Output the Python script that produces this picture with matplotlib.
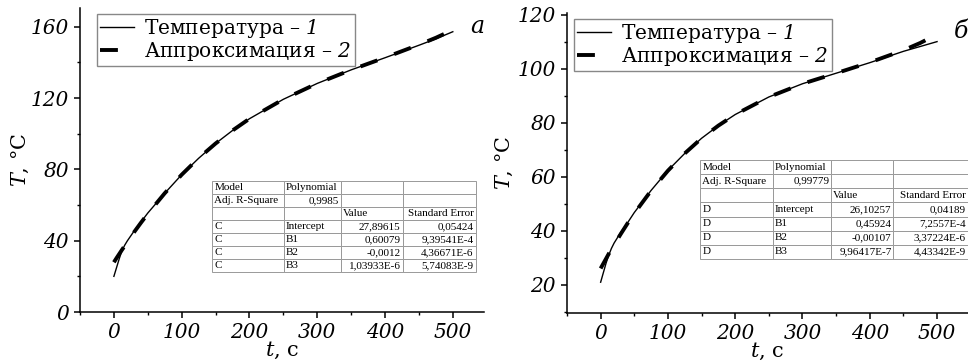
import matplotlib.pyplot as plt
from matplotlib.ticker import MultipleLocator

plt.rcParams['font.family'] = 'DejaVu Serif'
plt.rcParams['mathtext.fontset'] = 'custom'
plt.rcParams['mathtext.rm'] = 'DejaVu Serif:italic'
plt.rcParams['mathtext.it'] = 'DejaVu Serif:italic'

# panel a
t_a = [0, 4, 8, 12, 16, 20, 30, 40, 50, 75, 100, 125, 150, 175, 200, 250, 300, 350, 400, 450, 475, 500]
temp_a = [20, 25, 30, 34.5, 37.5, 40, 45.5, 50.5, 55.5, 66.6, 77, 86.2, 94.5, 101.8, 108.4, 119.3, 128.2,
          135.8, 142.6, 149.6, 153.2, 157.2]
fit_a = [27.9, 30.3, 32.6, 34.9, 37.1, 39.4, 44.9, 50.1, 55.1, 66.6, 77, 86.3, 94.5, 101.8, 108.4, 119.3,
         128.2, 135.8, 142.7, 149.9, 153.8, 158.2]

# panel б
t_b = [0, 4, 8, 12, 16, 20, 30, 40, 50, 75, 100, 125, 150, 175, 200, 250, 300, 350, 400, 450, 475, 500]
temp_b = [21, 24.5, 28, 31, 33.5, 35.5, 39.5, 43, 46.8, 55, 62.4, 68.7, 74.3, 79, 83.1, 89.6, 94.5, 98.4,
          102.3, 106.5, 108.3, 110.1]
fit_b = [26.1, 27.9, 29.7, 31.5, 33.2, 34.9, 38.9, 42.8, 46.5, 54.9, 62.3, 68.7, 74.3, 79, 83.1, 89.6, 94.5,
         98.4, 102.4, 106.9, 109.6, 112.8]

table_a = [['Model', 'Polynomial', '', ''],
           ['Adj. R-Square', '0,9985', '', ''],
           ['', '', 'Value', 'Standard Error'],
           ['C', 'Intercept', '27,89615', '0,05424'],
           ['C', 'B1', '0,60079', '9,39541E-4'],
           ['C', 'B2', '-0,0012', '4,36671E-6'],
           ['C', 'B3', '1,03933E-6', '5,74083E-9']]
table_b = [['Model', 'Polynomial', '', ''],
           ['Adj. R-Square', '0,99779', '', ''],
           ['', '', 'Value', 'Standard Error'],
           ['D', 'Intercept', '26,10257', '0,04189'],
           ['D', 'B1', '0,45924', '7,2557E-4'],
           ['D', 'B2', '-0,00107', '3,37224E-6'],
           ['D', 'B3', '9,96417E-7', '4,43342E-9']]

label_temp = 'Температура – $1$'
label_fit = 'Аппроксимация – $2$'


def draw_panel(ax, t, temp, fit, ylim, ymajor, yminor, rows, tbox, letter, leg_x, ylpad):
    ax.plot(t, temp, color='black', lw=1.0, label=label_temp)
    ax.plot(t, fit, color='black', lw=2.8, dashes=(4.6, 4.6), label=label_fit)
    ax.set_xlim(-50, 546)
    ax.set_ylim(*ylim)
    ax.xaxis.set_major_locator(MultipleLocator(100))
    ax.xaxis.set_minor_locator(MultipleLocator(50))
    ax.yaxis.set_major_locator(MultipleLocator(ymajor))
    ax.yaxis.set_minor_locator(MultipleLocator(yminor))
    ax.spines['top'].set_visible(False)
    ax.spines['right'].set_visible(False)
    for s in ['left', 'bottom']:
        ax.spines[s].set_linewidth(1.1)
    ax.tick_params(which='major', direction='out', length=4, width=1.1, pad=4)
    ax.tick_params(which='minor', direction='out', length=2.5, width=1.0)
    for lab in ax.get_xticklabels() + ax.get_yticklabels():
        lab.set_fontstyle('italic')
        lab.set_fontsize(14.5)
    ax.set_xlabel('$t$, с', fontsize=15, labelpad=-2)
    ax.set_ylabel('$T$, °C', fontsize=15, labelpad=ylpad)
    leg = ax.legend(loc='upper left', bbox_to_anchor=(leg_x, 0.98), fontsize=14.5, handlelength=1.7,
                    handletextpad=0.5, borderpad=0.15, labelspacing=0.0, fancybox=False,
                    edgecolor='#888888', framealpha=1, borderaxespad=0)
    leg.get_frame().set_linewidth(1.0)

    tb = ax.table(cellText=rows, bbox=tbox, colWidths=[72, 58, 62, 74], cellLoc='left')
    tb.auto_set_font_size(False)
    for (r, c), cell in tb.get_celld().items():
        cell.set_edgecolor('#999999')
        cell.set_linewidth(0.7)
        txt = cell.get_text()
        txt.set_fontfamily('Liberation Serif')
        txt.set_fontsize(8)
        right = (r == 1 and c == 1) or (r >= 3 and c >= 2) or (r == 2 and c == 3)
        if right:
            cell._loc = 'right'
            txt.set_horizontalalignment('right')
        cell.PAD = 0.03

    ax.text(1.0, 0.94, letter, transform=ax.transAxes, fontsize=17, fontstyle='italic',
            ha='right', va='center')


fig = plt.figure(figsize=(9.68, 3.63), dpi=100)
ax1 = fig.add_axes([80 / 968, 51 / 363, 404 / 968, 304 / 363])
ax2 = fig.add_axes([567 / 968, 50 / 363, 401 / 968, 300 / 363])

draw_panel(ax1, t_a, temp_a, fit_a, (0, 170.5), 40, 20, table_a, [0.327, 0.132, 0.653, 0.299], 'a', 0.042, 0)
draw_panel(ax2, t_b, temp_b, fit_b, (9.6, 120.7), 20, 10, table_b, [0.332, 0.18, 0.668, 0.33], 'б', 0.017, 2)

fig.savefig('out.png', dpi=100)
